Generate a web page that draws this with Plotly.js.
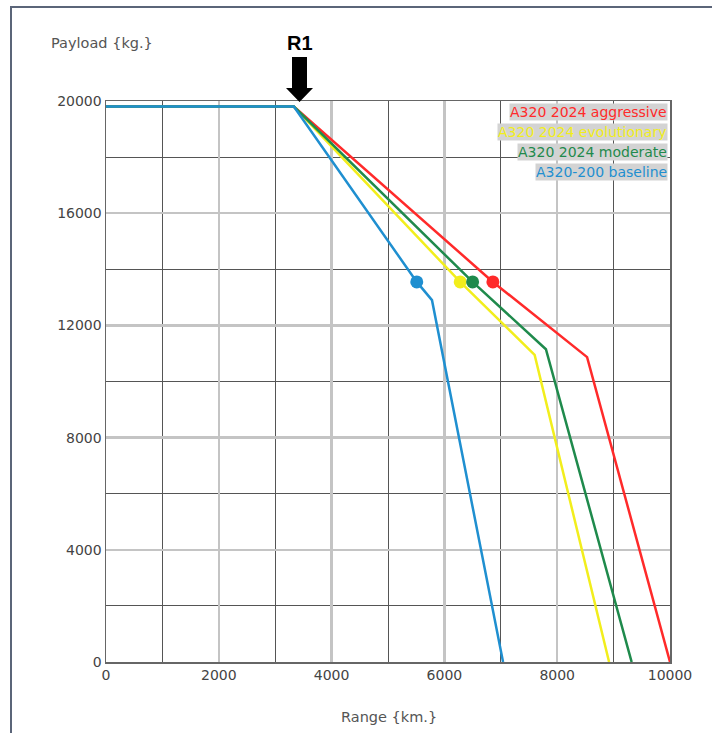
<!DOCTYPE html>
<html><head><meta charset="utf-8">
<script src="https://cdn.plot.ly/plotly-3.0.1.min.js"></script>
<style>
html,body{margin:0;padding:0;background:#fff;}
#wrap{position:relative;width:712px;height:733px;}
#chart{position:absolute;left:0;top:0;width:712px;height:733px;}
#frame{position:absolute;left:10px;top:6px;width:760px;height:780px;border:2px solid #5b6579;pointer-events:none;}
</style></head>
<body><div id="wrap"><div id="chart"></div><div id="frame"></div></div>
<script>
const seriesNames = ["A320 2024 aggressive", "A320 2024 evolutionary", "A320 2024 moderate", "A320-200 baseline"];
const seriesColors = ["#ff2a2a", "#f2ee1c", "#1f8a4c", "#1f8fd0"];
const rangeAggressive = [0, 3330, 6860, 8530, 10000];
const payloadAggressive = [19800, 19800, 13550, 10870, 0];
const rangeEvolutionary = [0, 3330, 6280, 7600, 8920];
const payloadEvolutionary = [19800, 19800, 13550, 10950, 0];
const rangeModerate = [0, 3330, 6500, 7800, 9320];
const payloadModerate = [19800, 19800, 13550, 11150, 0];
const rangeBaseline = [0, 3330, 5510, 5780, 7040];
const payloadBaseline = [19800, 19800, 13550, 12900, 0];
const markerRange = [6860, 6280, 6500, 5510];
const markerPayload = [13550, 13550, 13550, 13550];
const xTicks = [0, 2000, 4000, 6000, 8000, 10000];
const yTicks = [0, 4000, 8000, 12000, 16000, 20000];

const xs = [rangeAggressive, rangeEvolutionary, rangeModerate, rangeBaseline];
const ys = [payloadAggressive, payloadEvolutionary, payloadModerate, payloadBaseline];
const traces = [];
for (let i = 0; i < 4; i++) {
  traces.push({x: xs[i], y: ys[i], type: 'scatter', mode: 'lines', name: seriesNames[i],
    line: {color: seriesColors[i], width: 2.5}, showlegend: false, hoverinfo: 'skip'});
}
for (let i = 0; i < 4; i++) {
  traces.push({x: [markerRange[i]], y: [markerPayload[i]], type: 'scatter', mode: 'markers',
    marker: {color: seriesColors[i], size: 13}, showlegend: false, hoverinfo: 'skip'});
}
// plot area in pixels: left 106, right 670, top 101, bottom 662
const PL = 106, PW = 564, PT = 101, PH = 561;
const px = v => (v - PL) / PW;
const py = v => 1 - (v - PT) / PH;

const font = 'DejaVu Sans, Verdana, sans-serif';
const annotations = [];
const legendY = [112, 132, 152, 172];
for (let i = 0; i < 4; i++) {
  annotations.push({xref: 'paper', yref: 'paper', x: px(668), y: py(legendY[i]),
    xanchor: 'right', yanchor: 'middle', showarrow: false, text: seriesNames[i],
    font: {family: font, size: 14, color: seriesColors[i]}, bgcolor: '#d3d3d3', borderpad: 0});
}
annotations.push({xref: 'paper', yref: 'paper', x: px(49), y: py(43),
  xanchor: 'left', yanchor: 'middle', showarrow: false, text: 'Payload {kg.}',
  font: {family: font, size: 14.5, color: '#555'}});
annotations.push({xref: 'paper', yref: 'paper', x: px(389), y: py(717),
  xanchor: 'center', yanchor: 'middle', showarrow: false, text: 'Range {km.}',
  font: {family: font, size: 14.5, color: '#555'}});
annotations.push({xref: 'paper', yref: 'paper', x: px(300), y: py(43),
  xanchor: 'center', yanchor: 'middle', showarrow: false, text: '<b>R1</b>',
  font: {family: 'Liberation Sans, Arial, sans-serif', size: 20, color: '#000'}});

const arrowPts = [[292, 57], [307, 57], [307, 88], [313, 88], [299.5, 102], [286, 88], [292, 88]];
const arrowPath = 'M ' + arrowPts.map(p => px(p[0]) + ',' + py(p[1])).join(' L ') + ' Z';

const layout = {
  width: 712, height: 733,
  margin: {l: 106, r: 42, t: 101, b: 71},
  paper_bgcolor: '#fff', plot_bgcolor: '#fff',
  showlegend: false,
  xaxis: {range: [0, 10000], tickvals: xTicks, ticktext: xTicks.map(String),
    showgrid: true, gridcolor: '#c4c4c4', gridwidth: 2.5,
    minor: {dtick: 1000, tick0: 0, showgrid: true, gridcolor: '#555', gridwidth: 1},
    showline: true, linecolor: '#666', linewidth: 1.5, mirror: true,
    zeroline: false, ticks: '', tickfont: {family: font, size: 14, color: '#444'}},
  yaxis: {range: [0, 20000], tickvals: yTicks, ticktext: yTicks.map(String),
    showgrid: true, gridcolor: '#c4c4c4', gridwidth: 2.5,
    minor: {dtick: 2000, tick0: 0, showgrid: true, gridcolor: '#555', gridwidth: 1},
    showline: true, linecolor: '#666', linewidth: 1.5, mirror: true,
    zeroline: false, ticks: '', tickfont: {family: font, size: 14, color: '#444'}},
  shapes: [{type: 'path', xref: 'paper', yref: 'paper', path: arrowPath,
    fillcolor: '#000', line: {width: 0}, layer: 'above'}],
  annotations: annotations
};
Plotly.newPlot('chart', traces, layout, {displayModeBar: false, staticPlot: true});
</script></body></html>
